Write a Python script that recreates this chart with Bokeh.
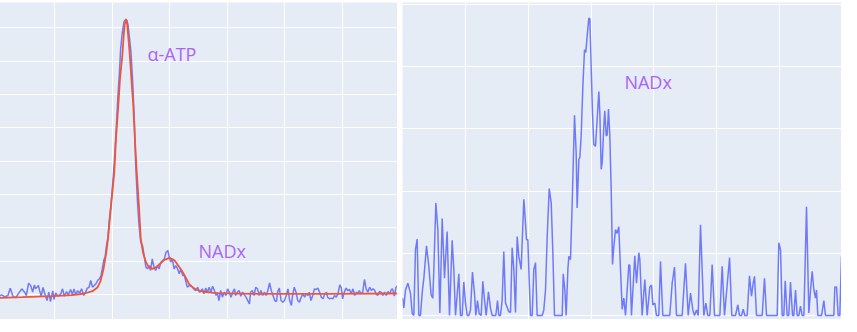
from bokeh.plotting import figure
from bokeh.layouts import row
from bokeh.models import Range1d, FixedTicker
from bokeh.core.properties import value
from bokeh.embed import file_html
from bokeh.resources import INLINE

# ---------------- left panel: measured spectrum (blue) and fit (red) ----------------
spec_x = [
    -0.97, -0.92, -0.86, -0.81, -0.77, -0.72, -0.67, -0.63, -0.57, -0.52,
    -0.49, -0.45, -0.41, -0.38, -0.35, -0.33, -0.28, -0.26, -0.23, -0.20,
    -0.16, -0.13, -0.10, -0.07, -0.03, -0.01, 0.02, 0.06, 0.11, 0.14,
    0.17, 0.21, 0.24, 0.28, 0.31, 0.34, 0.37, 0.40, 0.44, 0.47,
    0.51, 0.54, 0.57, 0.60, 0.63, 0.66, 0.68, 0.72, 0.75, 0.78,
    0.81, 0.83, 0.86, 0.88, 0.90, 0.93,
    0.95, 0.98, 1.01, 1.04, 1.07, 1.10, 1.13, 1.15, 1.18, 1.21,
    1.24, 1.26, 1.28, 1.30, 1.33, 1.36, 1.39, 1.41, 1.44, 1.47,
    1.50, 1.53, 1.55,
    1.59, 1.62, 1.65, 1.67, 1.70, 1.73, 1.76, 1.79, 1.82, 1.85,
    1.88, 1.91, 1.94, 1.97, 1.99, 2.02, 2.05, 2.08, 2.11, 2.14,
    2.17, 2.20, 2.23, 2.26, 2.28, 2.31, 2.34, 2.37, 2.40, 2.43,
    2.46, 2.49, 2.52, 2.54, 2.57, 2.60, 2.63, 2.66, 2.69, 2.72,
    2.75, 2.78, 2.81, 2.83, 2.86, 2.89, 2.92, 2.95, 2.98,
    3.01, 3.04, 3.07, 3.10, 3.13, 3.15, 3.18, 3.21, 3.24, 3.27,
    3.33, 3.39, 3.41, 3.44, 3.47, 3.50, 3.53, 3.56, 3.59, 3.62, 3.65,
    3.68, 3.71, 3.74, 3.77, 3.80, 3.83, 3.86, 3.88, 3.91, 3.94,
    3.97, 4.00, 4.03, 4.06, 4.09, 4.12, 4.14, 4.17, 4.20, 4.23,
    4.26, 4.29, 4.32, 4.35, 4.38, 4.41, 4.43, 4.46, 4.49, 4.52,
    4.55, 4.58, 4.61, 4.64, 4.67, 4.70, 4.73, 4.75, 4.78, 4.81,
    4.84, 4.87, 4.90, 4.93, 4.96, 4.99, 5.01, 5.04, 5.07, 5.10,
    5.13, 5.16, 5.19, 5.22, 5.25, 5.27, 5.30, 5.33, 5.36, 5.39,
    5.42, 5.45, 5.48, 5.51, 5.54, 5.57, 5.59, 5.62, 5.65, 5.68,
    5.71, 5.74, 5.77, 5.80, 5.83, 5.86, 5.88, 5.91, 5.94, 5.97,
]
spec_y = [
    -0.05, -0.01, -0.07, -0.03, 0.19, -0.07, -0.09, 0.02, 0.17, 0.07,
    -0.03, 0.34, 0.25, 0.07, 0.29, 0.17, 0.27, 0.12, -0.05, 0.21,
    -0.03, -0.18, 0.07, -0.21, 0.11, -0.15, 0.05, -0.05, 0.02, 0.17,
    -0.05, 0.09, -0.01, 0.15, -0.01, 0.17, -0.01, 0.11, 0.05, 0.17,
    -0.03, 0.07, 0.19, 0.21, 0.42, 0.22, 0.25, 0.32, 0.42, 0.47,
    0.57, 0.77, 1.05, 1.12, 1.42, 1.72,
    2.17, 2.67, 3.27, 3.97, 4.87, 5.87, 6.67, 7.37, 7.87, 8.19,
    8.25, 8.22, 8.07, 7.77, 7.27, 6.37, 5.17, 3.97, 2.87, 2.07,
    1.57, 1.47, 1.27,
    0.82, 0.77, 0.87, 0.72, 1.07, 0.82, 0.72, 0.87, 0.77, 0.97,
    1.02, 1.07, 1.27, 1.32, 1.17, 0.97, 1.07, 0.77, 0.87, 0.77,
    0.62, 0.77, 0.57, 0.57, 0.42, 0.22, 0.27, 0.25, 0.22, 0.15,
    0.12, 0.22, 0.07, 0.09, 0.17, 0.02, 0.19, 0.07, 0.22, 0.07,
    0.25, 0.12, -0.03, 0.07, -0.18, 0.12, -0.08, 0.07, -0.03,
    0.17, 0.07, -0.08, 0.07, 0.17, -0.03, 0.07, 0.12, -0.05, 0.07,
    -0.08, -0.28, 0.07, 0.12, -0.03, 0.22, 0.17, -0.03, 0.12, -0.03, 0.07,
    -0.03, 0.12, 0.35, 0.12, -0.03, -0.18, -0.21, 0.07, 0.19, -0.18,
    -0.23, -0.18, -0.03, 0.17, -0.18, -0.33, -0.03, 0.22, 0.07, -0.18,
    -0.23, -0.08, 0.02, -0.08, 0.02, -0.03, 0.07, -0.18, -0.03, 0.17,
    0.15, 0.19, 0.07, -0.08, -0.13, 0.02, 0.07, -0.08, -0.13, -0.11,
    -0.13, -0.03, -0.08, 0.02, 0.29, 0.19, -0.13, 0.07, 0.19, 0.12,
    0.15, 0.02, 0.17, -0.03, 0.07, 0.02, 0.12, 0.02, 0.07, 0.45,
    0.17, 0.07, 0.22, 0.12, 0.17, 0.12, 0.02, -0.03, 0.09, 0.07,
    -0.03, 0.07, -0.03, 0.09, 0.02, 0.15, 0.17, -0.05, 0.22, 0.27,
]

fit_x = [
    -0.97, -0.56, -0.04, 0.31, 0.52, 0.66, 0.75, 0.80, 0.85, 0.90,
    0.93, 0.98, 1.04, 1.07, 1.11, 1.14, 1.18, 1.20, 1.22, 1.243,
    1.265, 1.285, 1.31, 1.34, 1.37, 1.40, 1.43, 1.47, 1.50, 1.54,
    1.59, 1.64, 1.70, 1.77, 1.84, 1.91, 2.00, 2.09, 2.16, 2.23,
    2.29, 2.34, 2.40, 2.46, 2.57, 2.80, 3.44, 4.66, 5.97,
]
fit_y = [
    -0.10, -0.08, -0.05, -0.02, 0.03, 0.10, 0.22, 0.40, 0.75, 1.25,
    1.67, 2.60, 3.67, 4.70, 5.67, 6.50, 7.17, 7.70, 8.10, 8.27,
    8.10, 7.70, 7.17, 6.40, 5.67, 4.60, 3.67, 2.60, 1.67, 1.25,
    0.97, 0.82, 0.77, 0.82, 0.93, 1.04, 1.10, 1.02, 0.85, 0.67,
    0.48, 0.32, 0.22, 0.15, 0.09, 0.04, 0.02, 0.02, 0.03,
]

# ---------------- right panel: NADx residual ----------------
nad_x = [
    -1.00, -0.982, -0.955, -0.918, -0.876, -0.849, -0.823, -0.796, -0.770, -0.743,
    -0.717, -0.690, -0.663, -0.621, -0.584, -0.547, -0.520, -0.504, -0.472, -0.440,
    -0.408, -0.371, -0.334, -0.292, -0.255, -0.212, -0.186, -0.159, -0.106, -0.080,
    -0.053, -0.027, 0.0, 0.027, 0.053, 0.080, 0.111, 0.143, 0.164, 0.191,
    0.218, 0.250, 0.276, 0.303, 0.329, 0.366, 0.398, 0.425, 0.451, 0.483,
    0.510, 0.531, 0.557, 0.584, 0.610, 0.637, 0.664, 0.690, 0.717,
    0.743, 0.770, 0.796, 0.823, 0.849, 0.886, 0.929, 0.955, 0.971, 0.993,
    1.008, 1.035, 1.062, 1.088, 1.115, 1.141, 1.168, 1.194, 1.221, 1.247,
    1.274, 1.301, 1.333, 1.365, 1.391, 1.417, 1.460, 1.513, 1.540, 1.556,
    1.582, 1.603, 1.630, 1.646, 1.672, 1.699, 1.736, 1.762, 1.778, 1.805,
    1.821, 1.842, 1.869, 1.895, 1.916, 1.938, 1.964, 1.980, 2.002, 2.022,
    2.043, 2.070, 2.097, 2.123, 2.139, 2.161, 2.177, 2.203, 2.218, 2.240,
    2.256, 2.277, 2.298, 2.320, 2.341, 2.362, 2.389, 2.415, 2.441, 2.468,
    2.495, 2.521, 2.548, 2.601, 2.617, 2.643, 2.696, 2.723, 2.760, 2.776,
    2.813, 2.855, 2.893, 2.935, 2.962, 2.983, 3.015, 3.041, 3.078, 3.105,
    3.142, 3.211, 3.253, 3.291, 3.328, 3.360, 3.450, 3.503, 3.546, 3.583,
    3.620, 3.646, 3.678, 3.705, 3.742, 3.795, 3.827, 3.859, 3.891, 3.928,
    3.965, 4.050, 4.087, 4.124, 4.205, 4.240, 4.299, 4.336, 4.363, 4.395,
    4.422, 4.448, 4.485, 4.522, 4.554, 4.581, 4.602, 4.634, 4.724, 4.761,
    4.793, 4.963, 4.989, 5.016, 5.043, 5.069, 5.091, 5.122, 5.148, 5.175,
    5.207, 5.228, 5.255, 5.281, 5.308, 5.334, 5.361, 5.388, 5.430, 5.467,
    5.494, 5.520, 5.547, 5.573, 5.589, 5.610, 5.669, 5.706, 5.732, 5.865,
    5.881, 5.908, 5.934, 5.960, 5.987,
]
nad_y = [
    0.28, 0.12, 0.41, 0.52, 0.36, 0.04, 0.0, 1.06, 1.23, 0.0,
    0.0, 0.36, 0.60, 1.12, 0.79, 0.33, 0.28, 0.74, 1.81, 1.38,
    0.04, 1.56, 0.60, 1.35, 0.0, 1.21, 0.74, 0.0, 0.67, 0.0,
    0.0, 0.54, 0.20, 0.0, 0.0, 0.09, 0.70, 0.36, 0.0, 0.24,
    0.03, 0.0, 0.55, 0.25, 0.0, 0.38, 0.12, 0.0, 0.0, 0.0,
    0.24, 0.0, 0.0, 0.25, 1.03, 0.20, 0.13, 0.06, 0.05,
    1.09, 0.74, 0.05, 1.27, 0.95, 0.74, 1.87, 1.49, 1.22, 1.22,
    0.74, 0.0, 0.0, 0.74, 0.85, 0.0, 0.0, 0.0, 0.0, 0.09,
    0.41, 1.27, 2.04, 1.81, 1.01, 0.0, 0.0, 0.0, 0.0, 0.67,
    0.41, 0.0, 0.74, 0.95, 0.90, 1.81, 3.22, 2.62, 1.73, 2.51,
    2.54, 2.89, 3.69, 4.27, 4.23, 4.50, 4.78, 4.77, 3.96, 3.26,
    2.75, 2.72, 3.16, 3.60, 3.26, 2.35, 2.46, 3.05, 3.29, 2.89,
    2.90, 3.32, 2.89, 2.03, 0.82, 1.11, 1.38, 1.32, 1.43, 0.74,
    0.10, 0.28, 0.0, 0.82, 0.80, 0.0, 0.96, 0.52, 1.01, 0.90,
    0.0, 0.58, 0.0, 0.46, 0.49, 0.17, 0.20, 0.0, 0.0, 0.87,
    0.0, 0.0, 0.0, 0.52, 0.78, 0.0, 0.0, 0.84, 0.0, 0.36,
    0.09, 0.0, 0.09, 0.0, 1.46, 0.0, 0.20, 0.0, 0.0, 0.82,
    0.0, 0.0, 0.79, 0.0, 0.93, 0.0, 0.0, 0.17, 0.0, 0.0,
    0.10, 0.0, 0.0, 0.64, 0.31, 0.52, 0.63, 0.0, 0.0, 0.60,
    0.0, 0.0, 1.17, 1.06, 0.0, 0.0, 0.56, 0.0, 0.0, 0.54,
    0.0, 0.0, 0.41, 0.0, 0.0, 0.15, 0.0, 0.0, 1.75, 0.04,
    0.41, 0.71, 0.41, 0.28, 0.41, 0.0, 0.0, 0.24, 0.0, 0.0,
    0.46, 0.46, 0.0, 0.0, 0.95,
]

assert len(spec_x) == len(spec_y)
assert len(fit_x) == len(fit_y)
assert len(nad_x) == len(nad_y)

# annotation texts and anchors (data units)
label_atp = "α-ATP"
label_nad = "NADx"
atp_pos = (1.617, 7.21)
nad_left_pos = (2.504, 1.32)
nad_right_pos = (2.53, 3.75)

grid_x_ticks = [0, 1, 2, 3, 4, 5]
grid_y_left = [0, 1, 2, 3, 4, 5, 6, 7, 8]
grid_y_right = [0, 1, 2, 3, 4, 5]

BG = "#E5ECF6"
BLUE = "#636EFA"
RED = "#EF553B"
PURPLE = "#AB63FA"


def make_fig(fw, fh, xr, yr, yt, mbl=0, mbt=0):
    p = figure(frame_width=fw, frame_height=fh,
               x_range=Range1d(*xr), y_range=Range1d(*yr),
               output_backend="svg", toolbar_location=None,
               x_axis_location=None, y_axis_location=None,
               min_border=0, min_border_left=mbl, min_border_top=mbt,
               min_border_right=0, min_border_bottom=0,
               background_fill_color=BG, border_fill_color="white",
               outline_line_color=None)
    p.xgrid.ticker = FixedTicker(ticks=grid_x_ticks)
    p.ygrid.ticker = FixedTicker(ticks=yt)
    p.grid.grid_line_color = "white"
    p.grid.grid_line_width = 1
    p.grid.grid_line_alpha = 1.0
    return p


def add_label(p, txt, pos):
    p.text(x=[pos[0]], y=[pos[1]], text=[txt], text_color=PURPLE,
           text_font=value("Open Sans"), text_font_size="18px",
           text_align="left", text_baseline="alphabetic")


# left frame: page x 6..405, y 7..327 ; right frame: x 410..849, y 10..327
left = make_fig(399, 320, (-0.974, 5.965), (-0.84, 8.76), grid_y_left)
left.line(spec_x, spec_y, line_color=BLUE, line_width=1.5, line_alpha=0.9)
left.line(fit_x, fit_y, line_color=RED, line_width=1.8)
add_label(left, label_atp, atp_pos)
add_label(left, label_nad, nad_left_pos)

right = make_fig(439, 317, (-1.003, 5.987), (-0.064, 5.032), grid_y_right, mbl=5, mbt=3)
right.line(nad_x, nad_y, line_color=BLUE, line_width=1.5, line_alpha=0.9)
add_label(right, label_nad, nad_right_pos)

layout = row(left, right, margin=(-1, 0, 0, -2))
open("out.html", "w").write(file_html(layout, INLINE))
